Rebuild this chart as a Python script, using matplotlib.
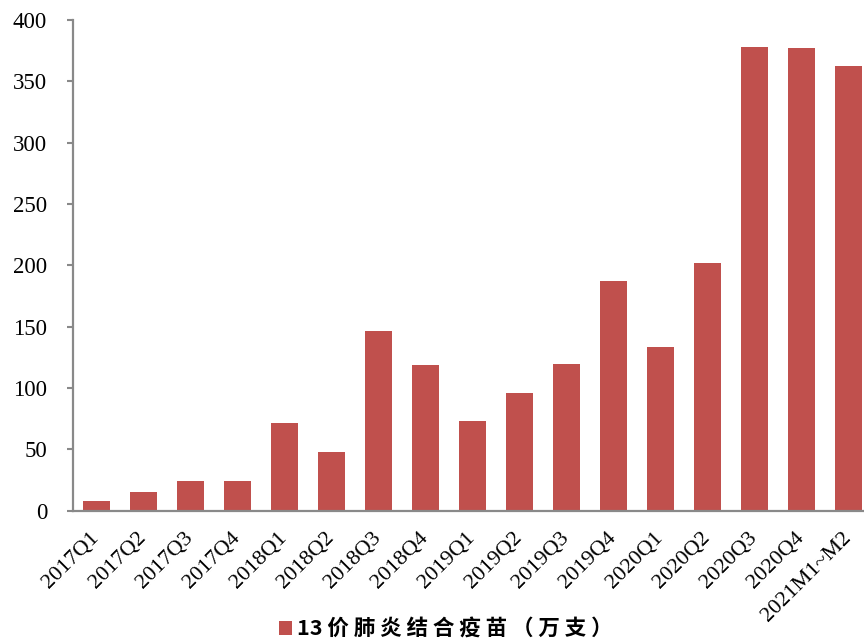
import matplotlib
matplotlib.use("Agg")
import matplotlib.pyplot as plt
from matplotlib.patches import Patch
from matplotlib.transforms import ScaledTranslation

# quarterly batches issued, 10k doses
periods = ["2017Q1", "2017Q2", "2017Q3", "2017Q4",
           "2018Q1", "2018Q2", "2018Q3", "2018Q4",
           "2019Q1", "2019Q2", "2019Q3", "2019Q4",
           "2020Q1", "2020Q2", "2020Q3", "2020Q4", "2021M1~M2"]
doses = [8.2, 15.5, 24.2, 24.4,
         71.5, 48.1, 146.5, 118.5,
         73.4, 96.0, 119.3, 187.2,
         133.2, 201.9, 377.8, 377.2, 362.5]
yticks = [0, 50, 100, 150, 200, 250, 300, 350, 400]
legend_label = "13价肺炎结合疫苗（万支）"

BAR = "#C0504D"
AXIS = "#898989"
SERIF = ["Liberation Serif", "DejaVu Serif"]
CJK = ["Noto Sans CJK SC", "DejaVu Sans"]

fig = plt.figure(figsize=(8.64, 6.41), dpi=100)
ax = fig.add_axes([72.7 / 864, 130.3 / 641, 799 / 864, 490.7 / 641])

x = list(range(len(periods)))
ax.bar(x, doses, width=0.575, color=BAR, edgecolor="none")

ax.set_xlim(-0.5, len(periods) - 0.5)
ax.set_ylim(0, 400)
ax.set_yticks(yticks)
ax.set_yticklabels([str(v) for v in yticks], family=SERIF, fontsize=16.5)
ax.set_xticks(x)
ax.set_xticklabels(periods, family=SERIF, fontsize=16, rotation=45,
                   ha="right", va="center", rotation_mode="anchor")
# nudge the rotated labels a little to the right so the tip sits on the tick
shift = ScaledTranslation(0.06, -0.03, fig.dpi_scale_trans)
for lab in ax.get_xticklabels():
    lab.set_transform(lab.get_transform() + shift)

for s in ("top", "right"):
    ax.spines[s].set_visible(False)
for s in ("left", "bottom"):
    ax.spines[s].set_color(AXIS)
    ax.spines[s].set_linewidth(1.6)
ax.tick_params(axis="y", direction="out", length=4.5, width=1.5,
               color=AXIS, pad=14, labelcolor="black")
ax.tick_params(axis="x", length=0, pad=17.5, labelcolor="black")

# legend text is spread out a bit in the source, mimic with spaces
spaced = "13 " + " ".join(legend_label[2:])
handle = Patch(facecolor=BAR, edgecolor="none")
fig.legend([handle], [spaced], loc="center",
           bbox_to_anchor=(446 / 864, 1 - 629 / 641),
           frameon=False, handlelength=0.58, handleheight=0.58,
           handletextpad=0.25, borderpad=0,
           prop={"family": CJK, "size": 15.5, "weight": "bold"})

fig.savefig("out.png", dpi=100, facecolor="white")
